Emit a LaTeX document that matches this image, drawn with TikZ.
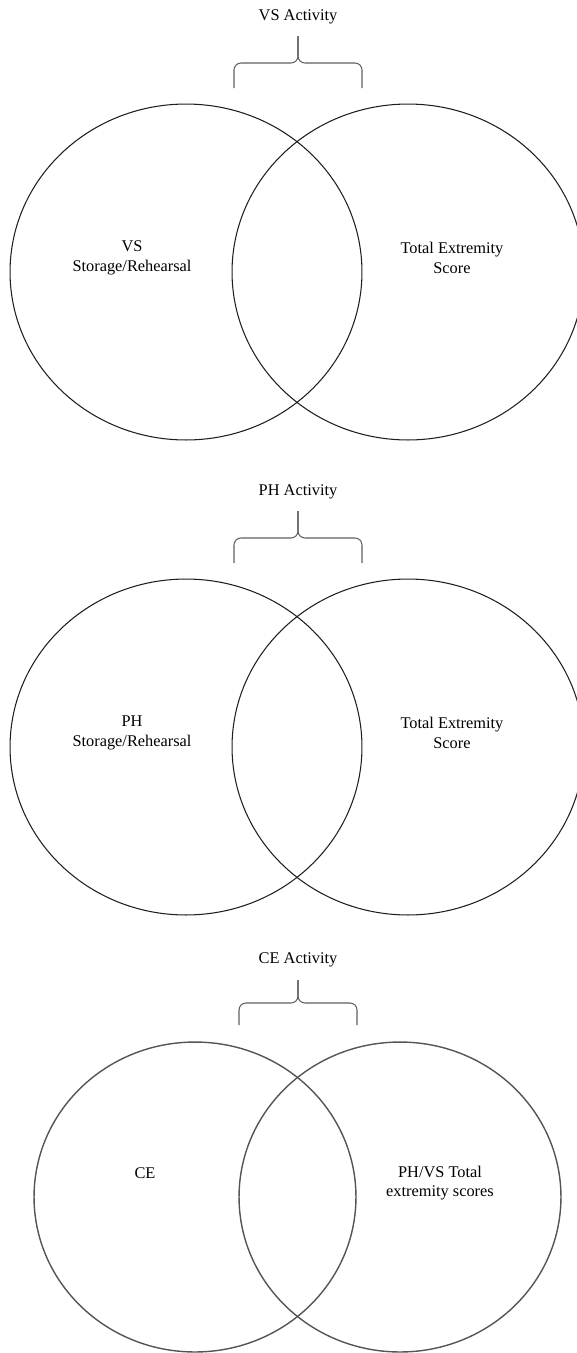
\documentclass[tikz,border=0pt]{standalone}
\usepackage{fontspec}
\setmainfont{Liberation Serif}
\usepackage{tikz}
\usetikzlibrary{shapes.geometric, positioning}
\definecolor{vennline}{RGB}{30, 30, 30}
\definecolor{vennsoft}{RGB}{85, 85, 85}
\definecolor{bracegray}{RGB}{95, 95, 95}

\begin{document}
\begin{tikzpicture}[
        x=0.02cm, y=-0.02cm,
        venn/.style={ellipse, draw=vennline, line width=0.6pt, inner sep=0pt},
        vennbig/.style={venn, minimum width=7.04cm, minimum height=6.72cm},
        vennsmall/.style={venn, draw=vennsoft, line width=0.8pt, minimum width=6.44cm, minimum height=6.2cm},
        setlabel/.style={align=center, inner sep=0pt, font=\fontsize{9.3}{11}\selectfont},
        bracket/.style={draw=bracegray, line width=0.6pt, rounded corners=4pt}
    ]
    \useasboundingbox (0,0) rectangle (577,1353);

    % VS diagram
    \node[setlabel] (vstitle) at (298,17) {VS Activity};
    \coordinate (vstip) at (298,36);
    \coordinate (vsmid) at (298,63);
    \coordinate (vsleft) at (234,88);
    \coordinate (vsright) at (362,88);
    \draw[bracket] (vsleft) |- (vsmid) -- (vstip);
    \draw[bracket] (vsright) |- (vsmid) -- (vstip);
    \node[vennbig] (vsstore) at (186,272) {};
    \node[vennbig] (vsscore) at (408,272) {};
    \node[setlabel] (vsstoretext) at (132,258) {VS\\Storage/Rehearsal};
    \node[setlabel] (vsscoretext) at (452,258) {Total Extremity\\Score};

    % PH diagram
    \node[setlabel] (phtitle) at (298,492) {PH Activity};
    \coordinate (phtip) at (298,511);
    \coordinate (phmid) at (298,538);
    \coordinate (phleft) at (234,563);
    \coordinate (phright) at (362,563);
    \draw[bracket] (phleft) |- (phmid) -- (phtip);
    \draw[bracket] (phright) |- (phmid) -- (phtip);
    \node[vennbig] (phstore) at (186,747) {};
    \node[vennbig] (phscore) at (408,747) {};
    \node[setlabel] (phstoretext) at (132,733) {PH\\Storage/Rehearsal};
    \node[setlabel] (phscoretext) at (452,733) {Total Extremity\\Score};

    % CE diagram
    \node[setlabel] (cetitle) at (298,960) {CE Activity};
    \coordinate (cetip) at (298,980);
    \coordinate (cemid) at (298,1003);
    \coordinate (celeft) at (239,1025);
    \coordinate (ceright) at (357,1025);
    \draw[bracket] (celeft) |- (cemid) -- (cetip);
    \draw[bracket] (ceright) |- (cemid) -- (cetip);
    \node[vennsmall] (ce) at (195,1197) {};
    \node[vennsmall] (cescore) at (400,1197) {};
    \node[setlabel] (cetext) at (145,1173) {CE};
    \node[setlabel] (cescoretext) at (440,1183) {PH/VS Total\\extremity scores};
\end{tikzpicture}
\end{document}
